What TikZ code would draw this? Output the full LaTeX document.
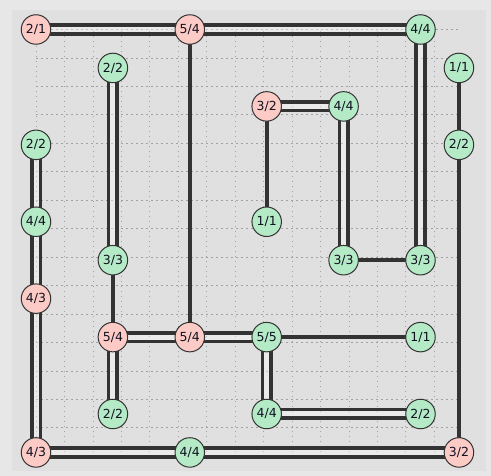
\documentclass[tikz,border=0pt]{standalone}
\usepackage{fontspec}
\setmainfont{DejaVu Sans}
\definecolor{outerbg}{HTML}{E7E7E7}
\definecolor{innerbg}{HTML}{E0E0E0}
\definecolor{gridc}{HTML}{A2A2A2}
\definecolor{dark}{HTML}{333333}
\definecolor{pinkc}{HTML}{FDCBC5}
\definecolor{greenc}{HTML}{B4EBC6}
\definecolor{txt}{HTML}{111122}
\tikzset{
  isl/.style={circle, draw=dark, line width=1pt, minimum size=29.5pt, inner sep=0pt,
    font=\fontsize{12.5}{13}\selectfont, text=txt},
  bad/.style={isl, fill=pinkc},
  good/.style={isl, fill=greenc},
  gridline/.style={draw=gridc, line width=0.8pt, dash pattern=on 1.6pt off 3.4pt},
  single/.style={draw=dark, line width=3.6pt},
  dblh/.style={draw=none,
    preaction={draw=white, draw opacity=0.35, line width=5pt},
    postaction={draw=dark, line width=3.6pt, transform canvas={yshift=4.3pt}},
    postaction={draw=dark, line width=3.6pt, transform canvas={yshift=-4.3pt}}},
  dblv/.style={draw=none,
    preaction={draw=white, draw opacity=0.35, line width=5pt},
    postaction={draw=dark, line width=3.6pt, transform canvas={xshift=4.3pt}},
    postaction={draw=dark, line width=3.6pt, transform canvas={xshift=-4.3pt}}},
}
\begin{document}
\begin{tikzpicture}[x=1pt,y=-1pt]
\useasboundingbox (0,0) rectangle (491,476);
\fill[outerbg] (0,0) rectangle (491,476);
\fill[innerbg] (12,10) rectangle (486,471);
\begin{scope}[shift={(36,29.5)}, x=38.45pt, y=-38.45pt]
\draw[gridline] (0,0) grid (11,11);
% coordinates of islands
\path
 (0,0) coordinate (c00) (4,0) coordinate (c40) (10,0) coordinate (c100)
 (11,1) coordinate (c111) (2,1) coordinate (c21)
 (6,2) coordinate (c62) (8,2) coordinate (c82)
 (0,3) coordinate (c03) (11,3) coordinate (c113)
 (0,5) coordinate (c05) (6,5) coordinate (c65)
 (2,6) coordinate (c26) (8,6) coordinate (c86) (10,6) coordinate (c106)
 (0,7) coordinate (c07)
 (2,8) coordinate (c28) (4,8) coordinate (c48) (6,8) coordinate (c68) (10,8) coordinate (c108)
 (2,10) coordinate (c210) (6,10) coordinate (c610) (10,10) coordinate (c1010)
 (0,11) coordinate (c011) (4,11) coordinate (c411) (11,11) coordinate (c1111);
% bridges
\draw[dblh] (c00) -- (c40);
\draw[dblh] (c40) -- (c100);
\draw[dblv] (c100) -- (c106);
\draw[single] (c111) -- (c113);
\draw[single] (c113) -- (c1111);
\draw[single] (c40) -- (c48);
\draw[dblv] (c21) -- (c26);
\draw[single] (c26) -- (c28);
\draw[dblh] (c62) -- (c82);
\draw[single] (c62) -- (c65);
\draw[dblv] (c82) -- (c86);
\draw[single] (c86) -- (c106);
\draw[dblv] (c03) -- (c05);
\draw[dblv] (c05) -- (c07);
\draw[dblv] (c07) -- (c011);
\draw[dblh] (c28) -- (c48);
\draw[dblh] (c48) -- (c68);
\draw[single] (c68) -- (c108);
\draw[dblv] (c68) -- (c610);
\draw[dblh] (c610) -- (c1010);
\draw[dblv] (c28) -- (c210);
\draw[dblh] (c011) -- (c411);
\draw[dblh] (c411) -- (c1111);
% islands
\node[bad]  (n00) at (c00) {2/1};
\node[bad]  (n40) at (c40) {5/4};
\node[good] (n100) at (c100) {4/4};
\node[good] (n111) at (c111) {1/1};
\node[good] (n21) at (c21) {2/2};
\node[bad]  (n62) at (c62) {3/2};
\node[good] (n82) at (c82) {4/4};
\node[good] (n03) at (c03) {2/2};
\node[good] (n113) at (c113) {2/2};
\node[good] (n05) at (c05) {4/4};
\node[good] (n65) at (c65) {1/1};
\node[good] (n26) at (c26) {3/3};
\node[good] (n86) at (c86) {3/3};
\node[good] (n106) at (c106) {3/3};
\node[bad]  (n07) at (c07) {4/3};
\node[bad]  (n28) at (c28) {5/4};
\node[bad]  (n48) at (c48) {5/4};
\node[good] (n68) at (c68) {5/5};
\node[good] (n108) at (c108) {1/1};
\node[good] (n210) at (c210) {2/2};
\node[good] (n610) at (c610) {4/4};
\node[good] (n1010) at (c1010) {2/2};
\node[bad]  (n011) at (c011) {4/3};
\node[good] (n411) at (c411) {4/4};
\node[bad]  (n1111) at (c1111) {3/2};
\end{scope}
\end{tikzpicture}
\end{document}
